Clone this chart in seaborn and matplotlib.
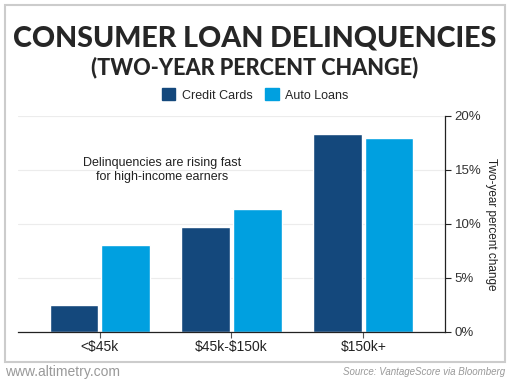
import numpy as np
import pandas as pd
import matplotlib
matplotlib.use("Agg")
import matplotlib.pyplot as plt
from matplotlib.patches import Rectangle
from matplotlib.ticker import FuncFormatter
import seaborn as sns

# ---------------- DATA ----------------
income_groups = ["<$45k", "$45k-$150k", "$150k+"]
credit_cards = [2.5, 9.7, 18.3]
auto_loans = [8.1, 11.4, 18.0]
series_names = ["Credit Cards", "Auto Loans"]
colors = ["#14487c", "#00a0e0"]

df = pd.DataFrame({
    "group": income_groups * 2,
    "series": [series_names[0]] * 3 + [series_names[1]] * 3,
    "value": credit_cards + auto_loans,
})

# ---------------- PLOT ----------------
sns.set_style("white")
plt.rcParams["font.family"] = ["Liberation Sans", "DejaVu Sans"]
plt.rcParams["text.parse_math"] = False  # keep the $ signs literal

fig = plt.figure(figsize=(5.1, 3.8), dpi=100)
ax = fig.add_axes([18 / 510, 1 - 332 / 380, 427 / 510, 216 / 380])

sns.barplot(data=df, x="group", y="value", hue="series", palette=colors,
            width=0.78, gap=0.05, saturation=1, ax=ax, legend=False)

ax.set_ylim(0, 20)
ax.set_xlim(-0.62, 2.62)
ax.set_yticks([0, 5, 10, 15, 20])
ax.yaxis.set_major_formatter(FuncFormatter(lambda v, p: f"{v:.0f}%"))
ax.yaxis.tick_right()
ax.yaxis.set_label_position("right")
ax.set_ylabel("Two-year percent change", rotation=270, fontsize=8.5,
              color="#222222", va="center")
ax.yaxis.set_label_coords((491 - 18) / 427, 0.5)
ax.set_xlabel("")
ax.grid(axis="y", color="#ececec", linewidth=0.8)
ax.set_axisbelow(True)

for side in ["top", "left"]:
    ax.spines[side].set_visible(False)
ax.spines["right"].set_color("#222222")
ax.spines["bottom"].set_color("#222222")
ax.spines["right"].set_linewidth(0.9)
ax.spines["bottom"].set_linewidth(0.9)
ax.tick_params(axis="y", right=True, length=4, color="#222222",
               labelsize=9.5, labelcolor="#333333", pad=3)
ax.tick_params(axis="x", bottom=True, length=4, color="#555555",
               labelsize=10, labelcolor="#222222", pad=2)

ax.text(0.47, 15.0, "Delinquencies are rising fast\nfor high-income earners",
        ha="center", va="center", fontsize=9, color="#222222", linespacing=1.2)

# titles
fig.text(0.5, 1 - 38 / 380, "CONSUMER LOAN DELINQUENCIES", ha="center",
         va="center", fontsize=20.6, fontweight="black",
         family=["Lato", "DejaVu Sans"])
fig.text(0.5, 1 - 67 / 380, "(TWO-YEAR PERCENT CHANGE)", ha="center",
         va="center", fontsize=15.6, fontweight="black",
         family=["Lato", "DejaVu Sans"])

handles = [Rectangle((0, 0), 1, 1, color=c) for c in colors]
fig.legend(handles, series_names, loc="center", bbox_to_anchor=(0.5, 1 - 95 / 380),
           ncol=2, frameon=False, fontsize=9, handlelength=1.1, handleheight=1.1,
           columnspacing=1.0, handletextpad=0.5)

# border and footer
fig.patches.append(Rectangle((5 / 510, 1 - 362 / 380), 500 / 510, 357 / 380,
                             transform=fig.transFigure, fill=False,
                             edgecolor="#cccccc", linewidth=1.5))
fig.text(5 / 510, 1 - 372 / 380, "www.altimetry.com", ha="left", va="center",
         fontsize=10, color="#999999")
fig.text(505 / 510, 1 - 372 / 380, "Source: VantageScore via Bloomberg",
         ha="right", va="center", fontsize=7, color="#999999", style="italic")

fig.savefig("out.png", dpi=100)
